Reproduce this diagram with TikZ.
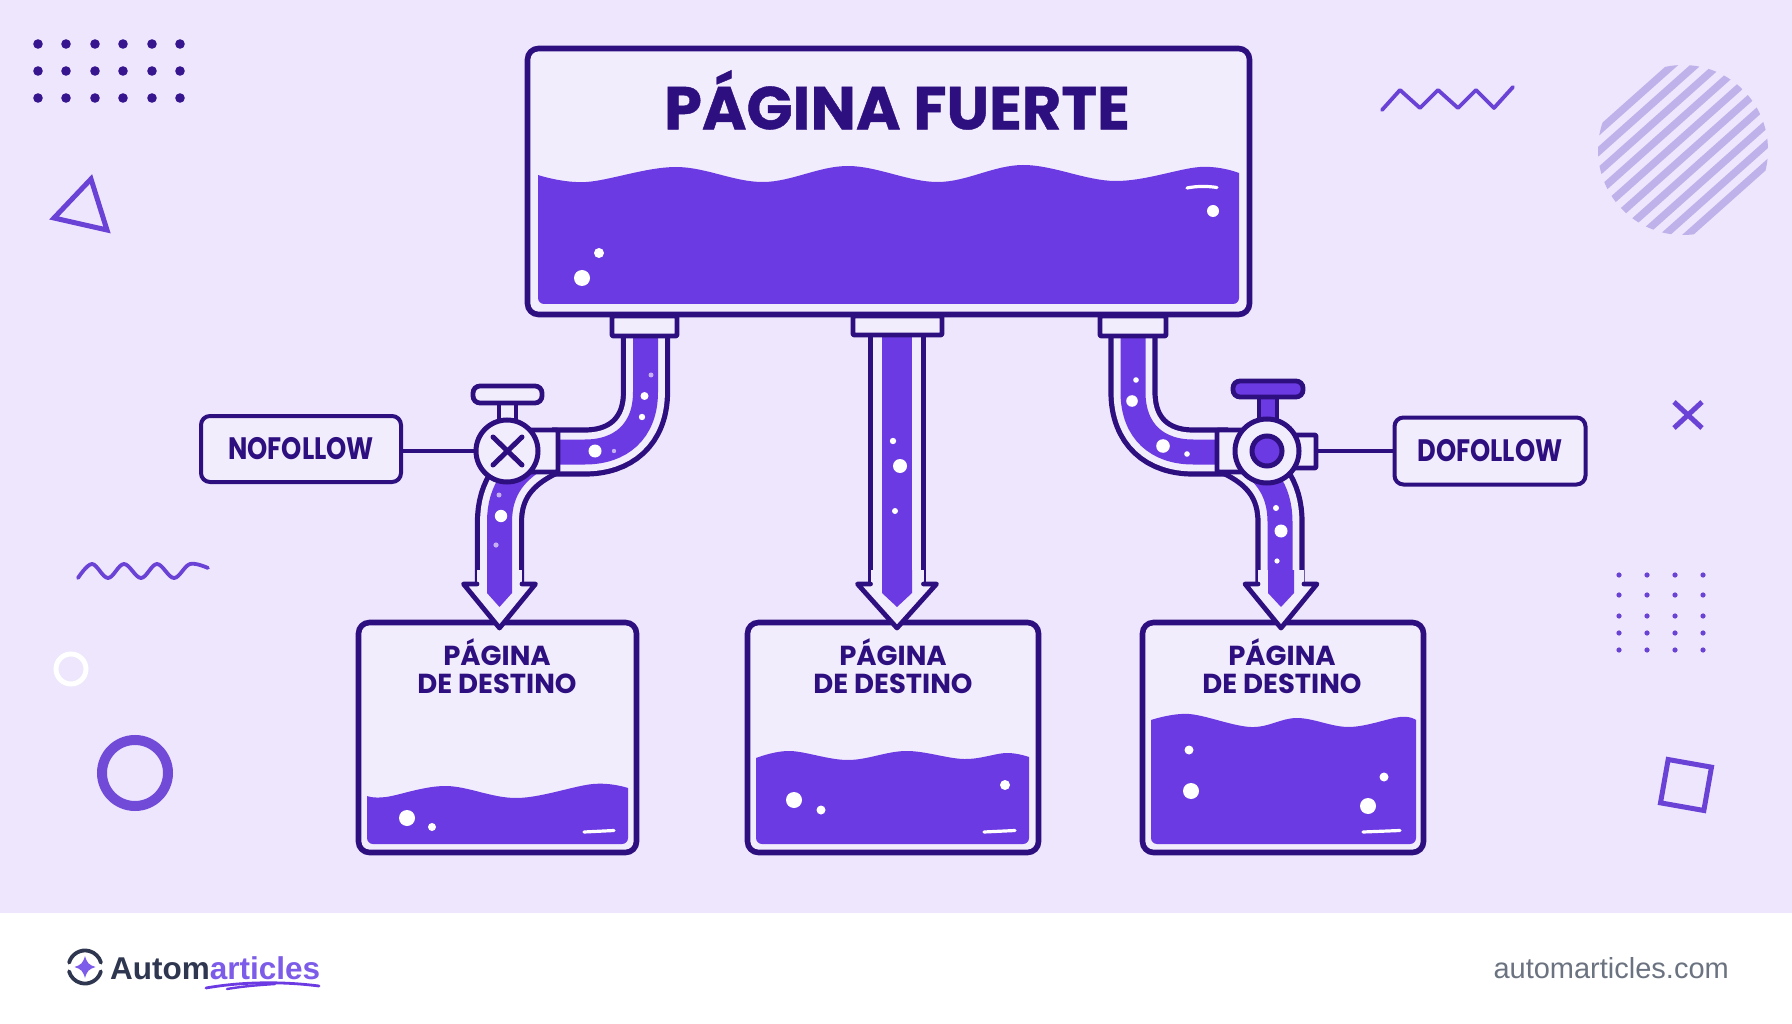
\documentclass[tikz,border=0pt]{standalone}
\usepackage{fontspec}
\setmainfont{Poppins}
\newfontfamily\headfont[BoldFeatures={FakeBold=0.7}]{Poppins}
\newfontfamily\brandfont{Liberation Sans}
\newfontfamily\urlfont{Liberation Sans}
\newfontfamily\narrowbold[FakeStretch=0.83]{Poppins}
\usetikzlibrary{calc}
\definecolor{ink}{HTML}{2E0F80}
\definecolor{water}{HTML}{6C3AE2}
\definecolor{pale}{HTML}{F2EDFC}
\definecolor{paper}{HTML}{EDE6FC}
\definecolor{decor}{HTML}{6B42D6}
\definecolor{stripe}{HTML}{BFB2EA}
\definecolor{slate}{HTML}{2F3650}
\definecolor{brand}{HTML}{7C5CE8}
\definecolor{urlgrey}{HTML}{6B7280}
\tikzset{
  x=1pt,y=-1pt,
  tank/.style={draw=ink,line width=5.6pt,fill=pale,rounded corners=11pt,inner sep=0pt},
  flange/.style={draw=ink,line width=4.8pt,fill=pale,rounded corners=1pt,line join=round},
  liquid/.style={fill=water},
  shine/.style={draw=white,line width=3.2pt,line cap=round},
  tag/.style={draw=ink,line width=4pt,fill=pale,rounded corners=9pt,inner sep=0pt,text=ink,font=\narrowbold\bfseries\fontsize{31}{31}\selectfont},
  leader/.style={draw=ink,line width=3.4pt},
  title/.style={text=ink,font=\headfont\bfseries\fontsize{60.5}{60.5}\selectfont,inner sep=0pt},
  boxtext/.style={text=ink,font=\fontsize{27.5}{27.5}\selectfont\bfseries,inner sep=0pt},
  deco/.style={draw=decor,line width=4pt,line join=round,line cap=round},
}
% a pipe run: outline, wall and liquid stroked along one centre line
\newcommand{\piperun}[3]{%
  \draw[ink,line width=#1+5.2pt] #3;
  \draw[pale,line width=#1-5.2pt] #3;
  \draw[water,line width=#2] #3;
}
% arrow end of a pipe: centre x, half shaft, half liquid, half wing
\newcommand{\pipetip}[4]{%
  \fill[pale] (#1-#2,570) rectangle (#1+#2,590);
  \draw[ink,line width=4.8pt,line join=round,line cap=round,fill=pale]
    (#1-#2,584) -- (#1-#4,584) -- (#1,628) -- (#1+#4,584) -- (#1+#2,584);
  \fill[water] (#1-#3,570) -- (#1-#3,593) -- (#1,607) -- (#1+#3,593) -- (#1+#3,570) -- cycle;
}
% liquid surface through listed points, with rounded lower corners
\newcommand{\liquidbody}[4]{%
  \fill[liquid] plot[smooth,tension=.6] coordinates {#1}
    [rounded corners=6pt] -- (#3,#4) -- (#2,#4) [sharp corners] -- cycle;
}
\begin{document}
\begin{tikzpicture}
\useasboundingbox (0,0) rectangle (1792,1024);
\fill[paper] (0,0) rectangle (1792,913);
\fill[white] (0,913) rectangle (1792,1024);

% ---- background ornaments ----
\foreach \px in {38,66,95,123,152,180}
  \foreach \py in {44,71,98}
    \fill[ink!85!water] (\px,\py) circle (4.8);
\draw[deco,line width=5pt,line join=miter] (54,218) -- (91,179) -- (107,230) -- cycle;
\draw[deco,line width=3.8pt] (1382,110) -- (1400,90) -- (1420,108) -- (1438,90) -- (1458,108) -- (1476,90) -- (1494,108) -- (1513,87);
\draw[deco,line width=3.8pt] plot[smooth,tension=.6] coordinates {(78,578) (92,564) (108,578) (124,564) (141,578) (157,564) (174,578) (190,564) (208,568)};
\draw[white,line width=5pt] (71,669) circle (15);
\draw[decor,line width=10pt,opacity=.95] (135,773) circle (33);
\draw[decor,line width=5pt] (1674,402) -- (1702,428) (1702,402) -- (1674,428);
\draw[decor,line width=5pt,line join=miter,rotate around={-10:(1686,785)}] (1664,763) rectangle (1708,807);
\foreach \px in {1619,1647,1675,1703}
  \foreach \py in {575,595,616,633,650}
    \fill[decor] (\px,\py) circle (2.6);
\begin{scope}
  \clip (1683,150) circle (85);
  \foreach \k in {-5,...,4}
    \draw[stripe,line width=7.4pt] ($(1683,150)+({(5.7+\k*15.2)*0.665},{(5.7+\k*15.2)*0.747})+(-120*0.747,120*0.665)$) -- ($(1683,150)+({(5.7+\k*15.2)*0.665},{(5.7+\k*15.2)*0.747})+(120*0.747,-120*0.665)$);
\end{scope}

% ---- lower tanks ----
\node[tank,minimum width=278pt,minimum height=230pt] (destleft) at (497.5,737.5) {};
\node[tank,minimum width=291pt,minimum height=230pt] (destmid) at (893,737.5) {};
\node[tank,minimum width=281pt,minimum height=230pt] (destright) at (1283,737.5) {};
\liquidbody{(367,796) (386,797) (446,786) (517,798) (593,784) (628,788)}{367}{628}{844}
\liquidbody{(756,758) (790,751) (848,760) (906,751) (964,759) (1006,753) (1029,757)}{756}{1029}{844}
\liquidbody{(1151,720) (1189,714) (1251,727) (1297,718) (1349,727) (1400,717) (1416,720)}{1151}{1416}{844}
\foreach \bx/\by/\br in {407/818/8,432/827/4,794/800/8,821/810/4.5,1005/785/5,1189/750/4.5,1191/791/8,1384/777/4.5,1368/806/8}
  \fill[white] (\bx,\by) circle (\br);
\draw[shine] (584,832) -- (614,830.5);
\draw[shine] (984,832) -- (1015,830.5);
\draw[shine] (1363,832) -- (1400,830.5);
\node[boxtext,align=center] (labA) at (497,666) {PÁGINA\\[0.5pt]DE DESTINO};
\node[boxtext,align=center] (labB) at (893,666) {PÁGINA\\[0.5pt]DE DESTINO};
\node[boxtext,align=center] (labC) at (1282,666) {PÁGINA\\[0.5pt]DE DESTINO};

% ---- tags ----
\node[tag,minimum width=200pt,minimum height=66pt] (nofollow) at (301,449) {NOFOLLOW};
\node[tag,minimum width=191pt,minimum height=67pt] (dofollow) at (1490,451) {DOFOLLOW};

% ---- left branch ----
\piperun{44pt}{25pt}{(499.5,590) -- (499.5,522) .. controls (499.5,490) and (515,468) .. (550,452)}
\piperun{44pt}{25pt}{(645.5,330) -- (645.5,392) .. controls (645.5,432) and (620,452) .. (585,452) -- (552,452)}
\pipetip{499.5}{22.5}{12.5}{36}
\draw[flange] (612,316) rectangle (677,336);
\draw[flange] (520,430) rectangle (558,472);
\draw[ink,line width=4.8pt,fill=pale] (499,403) rectangle (516,425);
\draw[ink,line width=4.8pt,fill=pale,rounded corners=7pt] (473,386) rectangle (542,403);
\node[draw=ink,line width=5pt,fill=pale,circle,minimum size=62pt,inner sep=0pt] (shutvalve) at (507,451) {};
\draw[leader] (nofollow.east |- shutvalve.west) -- (shutvalve.west);
\draw[ink,line width=5pt,line cap=round] (493,437) -- (522,465) (522,437) -- (493,465);
\foreach \bx/\by/\br in {644.5/396/4,642/417/3.2,595/451/6.5,501/516/6.2}
  \fill[white] (\bx,\by) circle (\br);
\foreach \bx/\by/\br in {651/375/2.5,614/451/2.2,499/495/2.5,496/545/2.6}
  \fill[white,opacity=.6] (\bx,\by) circle (\br);

% ---- centre branch ----
\piperun{53pt}{30pt}{(897,330) -- (897,590)}
\pipetip{897}{26.5}{15}{39.5}
\draw[flange] (853,316) rectangle (942,335);
\foreach \bx/\by/\br in {893/441/3.2,900/466/7,895/511/3}
  \fill[white] (\bx,\by) circle (\br);

% ---- right branch ----
\piperun{44pt}{25pt}{(1280,590) -- (1280,522) .. controls (1280,490) and (1265,468) .. (1230,452)}
\piperun{44pt}{25pt}{(1133,330) -- (1133,392) .. controls (1133,432) and (1158,452) .. (1193,452) -- (1228,452)}
\pipetip{1281}{23}{13}{36}
\draw[flange] (1100,316) rectangle (1166,336);
\draw[flange] (1217,430) rectangle (1250,472);
\draw[flange] (1290,435) rectangle (1316,468);
\draw[ink,line width=4.8pt,fill=water] (1259,397) rectangle (1277,425);
\draw[ink,line width=4.8pt,fill=water,rounded corners=7pt] (1233,381) rectangle (1303,397);
\node[draw=ink,line width=5pt,fill=pale,circle,minimum size=64pt,inner sep=0pt] (openvalve) at (1267,451) {};
\node[draw=ink,line width=5pt,fill=water,circle,minimum size=30pt,inner sep=0pt] (openhub) at (1267,451) {};
\draw[leader] (1316,451) -- (dofollow.west |- 1316,451);
\foreach \bx/\by/\br in {1136/380/2.8,1132/401/5.8,1163/446/6.8,1187/454/2.8,1276/508/3,1281/531/6.5,1277/561/2.6}
  \fill[white] (\bx,\by) circle (\br);

% ---- upper tank ----
\node[tank,minimum width=722pt,minimum height=266pt] (source) at (888.5,181.5) {};
\liquidbody{(538,175) (586,182) (676,167) (763,182) (848,166) (938,182) (1023,165) (1115,181) (1200,167) (1239,173)}{538}{1239}{304}
\fill[white] (582,278) circle (8);
\fill[white] (599,253) circle (5);
\fill[white] (1213,211) circle (6);
\draw[shine] (1187,188) .. controls (1197,186) and (1207,186) .. (1217,187.5);
\node[title] (heading) at (897,100) {PÁGINA FUERTE};

% ---- footer ----
\draw[slate,line width=3.8pt,line cap=round] (69.1,962.7) arc (-165:-15:16.5) (100.9,971.3) arc (15:165:16.5);
\fill[brand] (85,956) .. controls (87,963) and (89,965) .. (95.5,967) .. controls (89,969) and (87,971) .. (85,978) .. controls (83,971) and (81,969) .. (74.5,967) .. controls (81,965) and (83,963) .. (85,956) -- cycle;
\node[anchor=base west,inner sep=0pt,font=\brandfont\bfseries\fontsize{31.5}{31.5}\selectfont] (logotype) at (110,979) {\textcolor{slate}{Autom}\textcolor{brand}{articles}};
\draw[water,line width=2.8pt,line cap=round] (206,988) .. controls (240,982) and (280,981) .. (319,986);
\draw[water,line width=2.4pt,line cap=round] (227,989) .. controls (245,986) and (260,985) .. (275,984);
\node[anchor=base east,inner sep=0pt,text=urlgrey,font=\urlfont\fontsize{29}{29}\selectfont] (site) at (1729,978) {automarticles.com};
\end{tikzpicture}
\end{document}
